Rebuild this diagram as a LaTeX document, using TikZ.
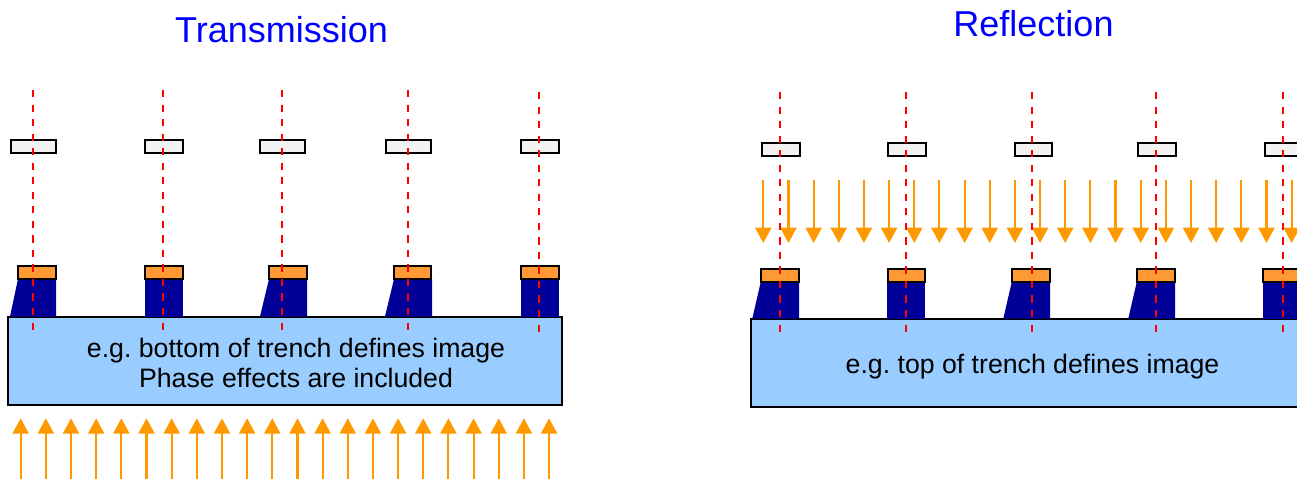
\documentclass[tikz,border=0pt]{standalone}
\usepackage{fontspec}
\setmainfont{Liberation Sans}
\usetikzlibrary{arrows.meta}
\definecolor{maskgrey}{HTML}{F2F2F2}
\definecolor{capor}{HTML}{FF9933}
\definecolor{navyb}{HTML}{000099}
\definecolor{subb}{HTML}{99CCFF}
\definecolor{lightor}{HTML}{FF9900}
\tikzset{
  mask/.style={draw=black,fill=maskgrey,line width=1.5pt,inner sep=0,outer sep=0,minimum height=13*0.75pt},
  capbox/.style={draw=black,fill=capor,line width=1.5pt,inner sep=0,outer sep=0,minimum height=13*0.75pt,minimum width=37.5*0.75pt},
  absorber/.style={fill=navyb},
  substrate/.style={draw=black,fill=subb,line width=1.5pt,inner sep=0,outer sep=0,minimum height=87.5*0.75pt},
  axisline/.style={draw=red,line width=1.5pt,dash pattern=on 5.4pt off 5.5pt},
  lightray/.style={draw=lightor,line width=1.6pt,-{Triangle[length=11.5pt,width=12pt,color=lightor]}},
  title/.style={text=blue,font=\fontsize{27pt}{32pt}\selectfont,anchor=base,inner sep=0},
  label/.style={text=black,font=\fontsize{20pt}{24pt}\selectfont,anchor=base,inner sep=0}
}
\frenchspacing
\begin{document}
\begin{tikzpicture}[x=0.75pt,y=-0.75pt]
\clip (0,0) rectangle (1297,479);
% Transmission
\node[substrate,minimum width=554*0.75pt] (subL) at (285.2,361) {};
\foreach \a/\b/\c in {10/18/56, 145/145/183, 260/269/307, 385/394/432, 521/521/559}
  \fill[absorber] (\a,316.5) -- (\b,279) -- (\c,279) -- (\c,316.5) -- cycle;
\node[mask,minimum width=45*0.75pt] (mL1) at (33.2,146.7) {};
\node[mask,minimum width=37.5*0.75pt] (mL2) at (163.9,146.7) {};
\node[mask,minimum width=45*0.75pt] (mL3) at (282.6,146.7) {};
\node[mask,minimum width=45*0.75pt] (mL4) at (408.6,146.7) {};
\node[mask,minimum width=37.5*0.75pt] (mL5) at (539.9,146.7) {};
\node[capbox] (cL1) at (37.1,272.7) {};
\node[capbox] (cL2) at (163.9,272.7) {};
\node[capbox] (cL3) at (288,272.7) {};
\node[capbox] (cL4) at (412.7,272.7) {};
\node[capbox] (cL5) at (539.9,272.7) {};
\foreach \i/\x/\t/\e in {1/33/90/330, 2/162.7/90/330, 3/282/90/330, 4/407.7/90/330, 5/539/92/332}{
  \coordinate (aLt\i) at (\x,\t);
  \coordinate (aLb\i) at (\x,\e);
  \draw[axisline] (aLt\i) -- (aLb\i);
}
\foreach \i in {0,...,21}{
  \coordinate (rLs\i) at ({20.7+25.16*\i},479);
  \coordinate (rLe\i) at ({20.7+25.16*\i},418.3);
  \draw[lightray] (rLs\i) -- (rLe\i);
}
\node[title] (tL) at (281.5,42) {Transmission};
\node[label] (tL1) at (296,357) {e.g. bottom of trench defines image};
\node[label] (tL2) at (296,387) {Phase effects are included};
% Reflection
\node[substrate,minimum width=560*0.75pt] (subR) at (1030.5,363) {};
\foreach \a/\b/\c in {752.3/761/799, 887/887/925, 1003.3/1012/1050, 1128.3/1137/1175, 1263/1263/1301}
  \fill[absorber] (\a,318.5) -- (\b,281) -- (\c,281) -- (\c,318.5) -- cycle;
\foreach \i/\x in {1/781, 2/907, 3/1033.3, 4/1157.2, 5/1284}
  \node[mask,minimum width=37.5*0.75pt] (mR\i) at (\x,149.2) {};
\foreach \i/\x in {1/779.9, 2/906.4, 3/1031.2, 4/1156, 5/1282.2}
  \node[capbox] (cR\i) at (\x,275) {};
\foreach \i in {0,...,21}{
  \coordinate (rRs\i) at ({763.3+25.16*\i},180);
  \coordinate (rRe\i) at ({763.3+25.16*\i},243);
  \draw[lightray] (rRs\i) -- (rRe\i);
}
\foreach \i/\x in {1/780, 2/906, 3/1032, 4/1156, 5/1283}{
  \coordinate (aRt\i) at (\x,92);
  \coordinate (aRb\i) at (\x,332);
  \draw[axisline] (aRt\i) -- (aRb\i);
}
\node[title] (tR) at (1033.5,36.6) {Reflection};
\node[label] (tR1) at (1032.5,373) {e.g. top of trench defines image};
\end{tikzpicture}
\end{document}
